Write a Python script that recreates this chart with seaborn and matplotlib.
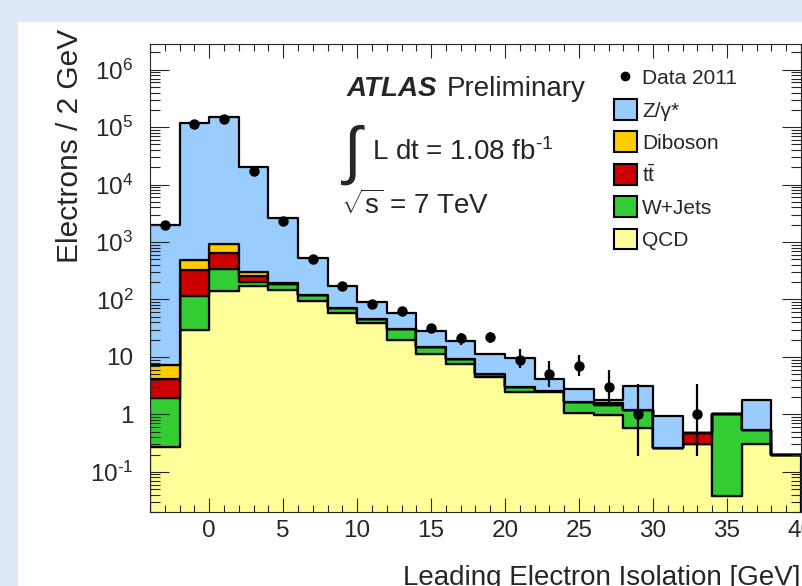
import numpy as np
import pandas as pd
import matplotlib
matplotlib.use('Agg')
import matplotlib.pyplot as plt
import seaborn as sns
from matplotlib.patches import Patch, Rectangle
from matplotlib.lines import Line2D
from matplotlib.ticker import LogLocator, MultipleLocator, FuncFormatter, NullFormatter

# bins of 2 GeV, from -4 to 40
bin_edges = [-4, -2, 0, 2, 4, 6, 8, 10, 12, 14, 16, 18, 20, 22, 24, 26, 28, 30, 32, 34, 36, 38, 40]
bin_centers = [-3, -1, 1, 3, 5, 7, 9, 11, 13, 15, 17, 19, 21, 23, 25, 27, 29, 31, 33, 35, 37, 39]

# per-process contributions (not cumulative)
qcd = [0.27, 30, 139, 170, 144, 96, 58, 39, 20, 11.4, 7.6, 4.5, 2.5, 2.45, 1.04, 0.96, 0.57, 0.26, 0.31, 0.038, 0.31, 0.196]
wjets = [1.63, 84, 201, 30, 41, 23, 12, 6, 11, 3.4, 1.7, 0.5, 0.5, 0.1, 0.6, 0.49, 0.6, 0, 0, 0.98, 0.22, 0]
ttbar = [2.3, 210, 310, 54, 3, 0, 0, 0, 0, 0, 0, 0, 0, 0, 0, 0, 0, 0, 0.17, 0, 0, 0]
diboson = [2.9, 156, 265, 44, 3, 1, 0.5, 0.3, 0.2, 0.1, 0.05, 0.02, 0.01, 0.01, 0.01, 0.15, 0.01, 0, 0, 0, 0, 0]
zgamma = [1993, 119500, 147000, 19700, 2450, 410, 104, 46, 28, 13.1, 9.4, 6.4, 6.7, 1.5, 1.15, 0.15, 2.0, 0.68, 0, 0, 1.24, 0]

# data 2011 (nan = empty bin)
data = [2000, 115000, 140000, 17400, 2300, 510, 170, 84, 63, 32, 21, 22, 9, 5, 7, 3, 1, np.nan, 1, np.nan, np.nan, np.nan]
err_down = [45, 340, 375, 132, 48, 23, 13, 9, 8, 5.7, 4.6, 4.7, 2.7, 2.0, 2.4, 1.6, 0.81, np.nan, 0.81, np.nan, np.nan, np.nan]
err_up = [45, 340, 375, 132, 48, 23, 13, 9, 8, 5.7, 4.6, 4.7, 4.5, 3.5, 4.0, 2.9, 2.4, np.nan, 2.4, np.nan, np.nan, np.nan]

processes = ['Z/γ*', 'Diboson', r'$\mathrm{t\bar{t}}$', 'W+Jets', 'QCD']
colors = ['#99ccff', '#ffcc00', '#cc0000', '#33cc33', '#ffff99']
values = [zgamma, diboson, ttbar, wjets, qcd]

rows = []
for name, vals in zip(processes, values):
    for c, v in zip(bin_centers, vals):
        rows.append({'iso': c, 'count': v, 'process': name})
df = pd.DataFrame(rows)

sns.set_style('ticks')
plt.rcParams['font.family'] = ['Liberation Sans', 'DejaVu Sans']
plt.rcParams['mathtext.fontset'] = 'custom'
plt.rcParams['mathtext.rm'] = 'Liberation Sans'
plt.rcParams['mathtext.it'] = 'Liberation Sans:italic'
plt.rcParams['mathtext.bf'] = 'Liberation Sans:bold'

W, H = 803, 586
def fx(px):
    return px / W
def fy(py):
    return 1 - py / H

fig = plt.figure(figsize=(W / 100, H / 100), dpi=100, facecolor='#dee8f9')
fig.add_artist(Rectangle((fx(18), 0), 1, fy(22), transform=fig.transFigure,
                         facecolor='white', edgecolor='none', zorder=-5))
ax = fig.add_axes([fx(150), fy(512), fx(801) - fx(150), fy(44) - fy(512)])
ax.set_yscale('log')

sns.histplot(data=df, x='iso', weights='count', hue='process', hue_order=processes,
             palette=colors, multiple='stack', bins=bin_edges, element='step',
             fill=True, alpha=1, edgecolor='black', linewidth=1.6, legend=False, ax=ax)

ax.errorbar(bin_centers, data, yerr=[err_down, err_up], fmt='o', color='black',
            markersize=6.5, elinewidth=1.6, capsize=0, zorder=5)

ax.set_xlim(-4, 40)
ax.set_ylim(0.02, 2.8e6)
ax.set_xlabel('')
ax.set_ylabel('')

ax.xaxis.set_major_locator(MultipleLocator(5))
ax.xaxis.set_minor_locator(MultipleLocator(1))
ax.yaxis.set_major_locator(LogLocator(base=10, numticks=20))
ax.yaxis.set_minor_locator(LogLocator(base=10, subs=np.arange(2, 10), numticks=100))
ax.yaxis.set_minor_formatter(NullFormatter())

def ylab(v, pos):
    e = int(round(np.log10(v)))
    if e == 0:
        return '1'
    if e == 1:
        return '10'
    if e < 0:
        return r'$\mathrm{10^{\text{-%d}}}$' % (-e)
    return r'$\mathrm{10^{%d}}$' % e
ax.yaxis.set_major_formatter(FuncFormatter(ylab))

ax.tick_params(which='both', direction='in', top=True, right=True, width=0.8, labelsize=17.5)
ax.tick_params(axis='x', which='major', length=10, pad=6)
ax.tick_params(axis='x', which='minor', length=5)
ax.tick_params(axis='y', which='major', length=14, pad=12)
ax.tick_params(axis='y', which='minor', length=7)
for s in ax.spines.values():
    s.set_linewidth(0.8)
ax.set_axisbelow(False)

# axis titles
fig.text(fx(70), fy(29), 'Electrons / 2 GeV', rotation=90, ha='center', va='top', fontsize=21.5)
fig.text(fx(801), fy(585), 'Leading Electron Isolation [GeV]', ha='right', va='baseline', fontsize=20)

# labels
fig.text(fx(347), fy(96), 'ATLAS', fontsize=20, fontweight='bold', fontstyle='italic', va='baseline')
fig.text(fx(447), fy(96), 'Preliminary', fontsize=20, va='baseline')
fig.text(fx(343), fy(172), '∫', fontsize=46, va='baseline')
fig.text(fx(372), fy(160), r'L dt = 1.08 fb$^{\text{-1}}$', fontsize=20, va='baseline')
fig.text(fx(341), fy(214), r'$\sqrt{\mathrm{s}}$ = 7 TeV', fontsize=20, va='baseline')

handles = [Line2D([], [], marker='o', color='black', linestyle='none', markersize=6)]
for name, c in zip(processes, colors):
    handles.append(Patch(facecolor=c, edgecolor='black', linewidth=1.5))
labels = ['Data 2011'] + processes
ax.legend(handles, labels, loc='upper left', bbox_to_anchor=(fx(614), fy(67)),
          bbox_transform=fig.transFigure, frameon=False, fontsize=15,
          handlelength=1.1, handleheight=1.15, handletextpad=0.25,
          labelspacing=0.52, borderpad=0, borderaxespad=0)

fig.savefig('out.png', dpi=100, facecolor=fig.get_facecolor())
